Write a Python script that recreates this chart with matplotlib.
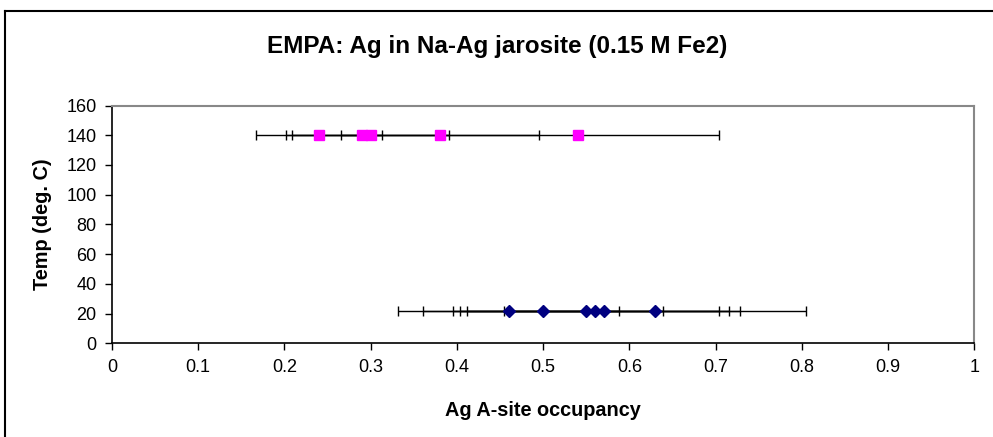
import matplotlib
matplotlib.use("Agg")
import matplotlib.pyplot as plt
from matplotlib.lines import Line2D

plt.rcParams['font.family'] = ['Liberation Sans', 'DejaVu Sans']

# 140 deg C samples (pink squares)
occ_140 = [0.24, 0.29, 0.30, 0.38, 0.54]
err_140 = [0.073, 0.088, 0.091, 0.115, 0.164]
temp_140 = [140, 140, 140, 140, 140]

# 22 deg C samples (navy diamonds)
occ_22 = [0.46, 0.50, 0.55, 0.56, 0.57, 0.63]
err_22 = [0.128, 0.139, 0.154, 0.156, 0.158, 0.175]
temp_22 = [22, 22, 22, 22, 22, 22]

x_ticks = [0, 0.1, 0.2, 0.3, 0.4, 0.5, 0.6, 0.7, 0.8, 0.9, 1]
x_tick_labels = ['0', '0.1', '0.2', '0.3', '0.4', '0.5', '0.6', '0.7', '0.8', '0.9', '1']
y_ticks = [0, 20, 40, 60, 80, 100, 120, 140, 160]

W, H = 993, 437
fig = plt.figure(figsize=(W / 100, H / 100), dpi=100)
ax = fig.add_axes([112 / W, 1 - 343.3 / H, (974.3 - 112) / W, (343.3 - 105.5) / H])

for x, e, t in zip(occ_140, err_140, temp_140):
    ax.errorbar(x, t, xerr=e, fmt='none', ecolor='black', elinewidth=1.0,
                capsize=3.5, capthick=1.0, zorder=2)
for x, e, t in zip(occ_22, err_22, temp_22):
    ax.errorbar(x, t, xerr=e, fmt='none', ecolor='black', elinewidth=1.0,
                capsize=3.5, capthick=1.0, zorder=2)

ax.plot(occ_140, temp_140, linestyle='none', marker='s', markersize=6.5,
        color='#FF00FF', markeredgecolor='#FF00FF', zorder=3)
ax.plot(occ_22, temp_22, linestyle='none', marker='D', markersize=6.5,
        color='#000080', markeredgecolor='#000080', zorder=3)

ax.set_xlim(0, 1)
ax.set_ylim(0, 160)
ax.set_xticks(x_ticks)
ax.set_xticklabels(x_tick_labels)
ax.set_yticks(y_ticks)
ax.tick_params(axis='both', direction='out', length=5, width=1, labelsize=13,
               colors='black', pad=6)
for side in ['left', 'bottom']:
    ax.spines[side].set_color('black')
    ax.spines[side].set_linewidth(1.2)
for side in ['top', 'right']:
    ax.spines[side].set_color('#888888')
    ax.spines[side].set_linewidth(1.5)

fig.text(497 / W, 1 - 47 / H, 'EMPA: Ag in Na-Ag jarosite (0.15 M Fe2)',
         ha='center', va='center', fontsize=17.5, fontweight='bold')
fig.text(543 / W, 1 - 410 / H, 'Ag A-site occupancy',
         ha='center', va='center', fontsize=14.3, fontweight='bold')
fig.text(42 / W, 1 - 224 / H, 'Temp (deg. C)', rotation=90,
         ha='center', va='center', fontsize=14.3, fontweight='bold')

# outer chart border
fig.add_artist(Line2D([5 / W, 5 / W], [0, 1 - 11 / H], color='black', lw=1.5,
                      transform=fig.transFigure))
fig.add_artist(Line2D([5 / W, 1], [1 - 11 / H, 1 - 11 / H], color='black', lw=1.5,
                      transform=fig.transFigure))

fig.savefig('out.png', dpi=100)
